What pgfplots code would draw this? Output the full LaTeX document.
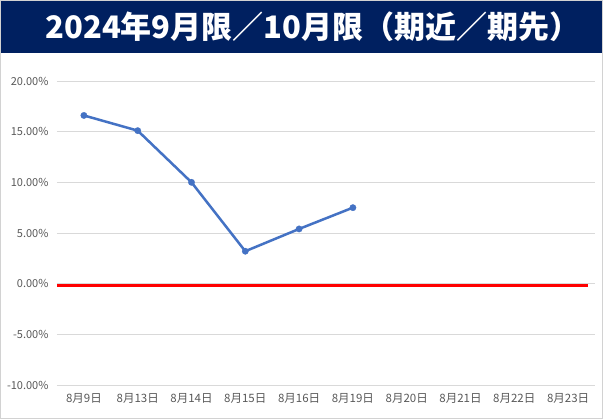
\documentclass[border=0pt]{standalone}
\usepackage{pgfplots}
\pgfplotsset{compat=1.18}
\usepackage{fontspec}
\setmainfont{Noto Sans CJK JP}
\definecolor{navy}{HTML}{002060}
\definecolor{xlblue}{HTML}{4472C4}
\definecolor{txtgray}{HTML}{595959}
\begin{document}
\begin{tikzpicture}[x=1pt,y=1pt]
\fill[white] (0,0) rectangle (603,419);
\draw[gray!35] (0.5,0.5) rectangle (602.5,418.5);
\fill[navy] (1,366) rectangle (602,418);
\node[white, font=\bfseries\fontsize{31}{36}\selectfont] at (313,392) {2024年9月限／10月限（期近／期先）};
\begin{axis}[
  at={(57pt,34pt)}, anchor=south west,
  scale only axis, width=538pt, height=304pt,
  xmin=-0.5, xmax=9.5, ymin=-10, ymax=20,
  axis line style={draw=none},
  tick style={draw=none},
  ymajorgrids, major grid style={draw=gray!30, line width=0.8pt},
  ytick={-10,-5,0,5,10,15,20},
  yticklabels={-10.00\%,-5.00\%,0.00\%,5.00\%,10.00\%,15.00\%,20.00\%},
  xtick={0,...,9},
  xticklabels={8月9日,8月13日,8月14日,8月15日,8月16日,8月19日,8月20日,8月21日,8月22日,8月23日},
  yticklabel style={font=\fontsize{11}{13}\selectfont, text=txtgray, xshift=-5pt},
  xticklabel style={font=\fontsize{11.5}{13}\selectfont, text=txtgray, yshift=-5pt},
  clip=false,
]
\addplot[red, line width=2.8pt] coordinates {(-0.5,-0.15) (9.37,-0.15)};
\addplot[xlblue, line width=2.5pt, mark=*, mark size=3.2pt, mark options={solid, fill=xlblue, draw=xlblue, line width=0.3pt}]
  coordinates {(0,16.6) (1,15.1) (2,10.0) (3,3.2) (4,5.4) (5,7.5)};
\end{axis}
\end{tikzpicture}
\end{document}
